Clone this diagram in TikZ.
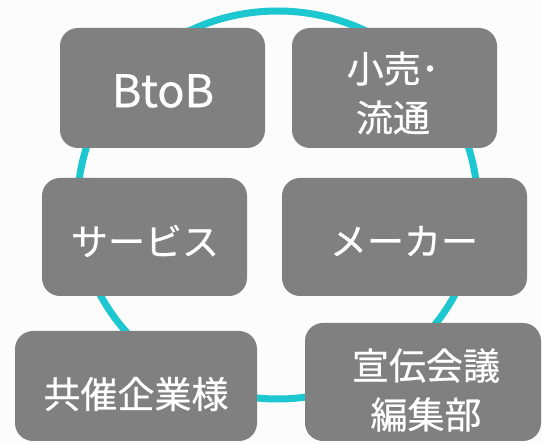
\documentclass[tikz,border=0pt]{standalone}
\usepackage{fontspec}
\setmainfont{Noto Sans CJK JP}[FakeBold=0.6]
\definecolor{bgc}{HTML}{FCFCFC}
\definecolor{ring}{HTML}{1CC7D0}
\definecolor{boxc}{HTML}{808080}
\begin{document}
\begin{tikzpicture}[x=1pt,y=-1pt,
  box/.style={fill=boxc,draw=none,rounded corners=18pt},
  lbl/.style={text=white,align=center,inner sep=0pt,font=\fontsize{37}{49}\selectfont}]
\useasboundingbox (0,0) rectangle (542,443);
\fill[bgc] (0,0) rectangle (542,443);
\clip (0,0) rectangle (542,443);
\draw[ring,line width=7pt] (277.5,205) ellipse [x radius=200, y radius=194];
\path[box] (60,28) rectangle (265,148) coordinate (b1);
\path[box] (292,28) rectangle (497,148) coordinate (b2);
\path[box] (42,178) rectangle (247,296) coordinate (b3);
\path[box] (282,178) rectangle (527,296) coordinate (b4);
\path[box] (15,331) rectangle (257,441) coordinate (b5);
\path[box] (305,323) rectangle (541,441) coordinate (b6);
\node[lbl,font=\fontsize{45}{49}\selectfont] (t1) at (163,91) {BtoB};
\node[lbl] (t2) at (393,93) {小売･\\流通};
\node[lbl] (t3) at (145,241) {サービス};
\node[lbl] (t4) at (404,241) {メーカー};
\node[lbl] (t5) at (136,394) {共催企業様};
\node[lbl] (t6) at (426,390) {宣伝会議\\編集部};
\end{tikzpicture}
\end{document}
